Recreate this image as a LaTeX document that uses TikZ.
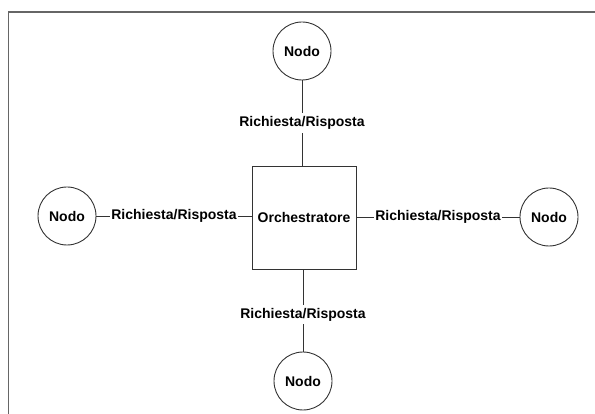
\documentclass[tikz,border=0pt]{standalone}
\usepackage{fontspec}
\setmainfont{Liberation Sans}
\begin{document}
\begin{tikzpicture}[x=1pt,y=-1pt,
  nodecircle/.style={draw=black!80, line width=0.9pt, circle, minimum size=58pt, inner sep=0pt, font=\bfseries\fontsize{14}{16}\selectfont},
  orchbox/.style={draw=black!80, line width=0.9pt, rectangle, minimum width=104pt, minimum height=103pt, inner sep=0pt, font=\bfseries\fontsize{14}{16}\selectfont},
  link/.style={draw=black!80, line width=0.9pt},
  linklabel/.style={fill=white, inner xsep=1pt, inner ysep=3pt, font=\bfseries\fontsize{14}{16}\selectfont}
]
\useasboundingbox (0,0) rectangle (595,414);
% outer frame (only top and left edges fall inside the page)
\draw[black!60, line width=1.3pt] (8.5,430) -- (8.5,12) -- (610,12);

\node[orchbox] (orch) at (304,217.5) {Orchestratore};
\node[nodecircle] (ntop) at (302,51) {Nodo};
\node[nodecircle] (nbot) at (303,381) {Nodo};
\node[nodecircle] (nleft) at (67,216) {Nodo};
\node[nodecircle] (nright) at (549,217) {Nodo};

\draw[link] (ntop.south) -- node[linklabel] {Richiesta/Risposta} (ntop.south |- orch.north);
\draw[link] (nbot.north |- orch.south) -- node[linklabel, pos=0.55] {Richiesta/Risposta} (nbot.north);
\draw[link] (nleft.east) -- node[linklabel] {Richiesta/Risposta} (orch.west |- nleft.east);
\draw[link] (orch.east |- nright.west) -- node[linklabel] {Richiesta/Risposta} (nright.west);
\end{tikzpicture}
\end{document}
